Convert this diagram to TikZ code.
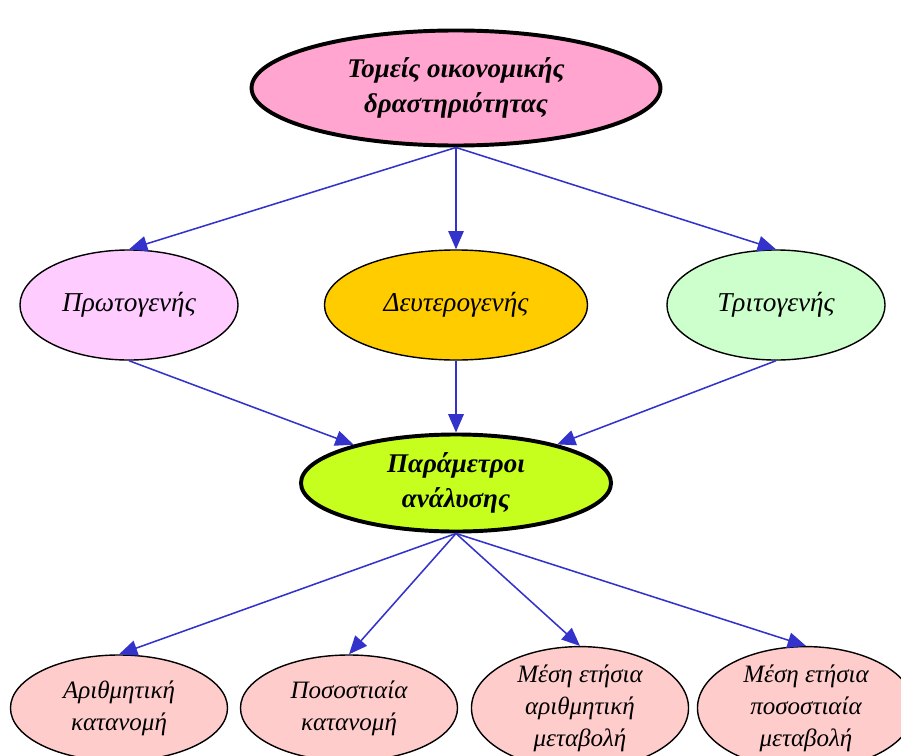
\documentclass[tikz,border=0pt]{standalone}
\usepackage{fontspec}
\setmainfont{Liberation Serif}
\usetikzlibrary{arrows.meta, shapes.geometric}
\definecolor{topc}{HTML}{FFA5D0}
\definecolor{primc}{HTML}{FFCCFF}
\definecolor{secc}{HTML}{FFCC00}
\definecolor{terc}{HTML}{CCFFCC}
\definecolor{parc}{HTML}{C6FF1E}
\definecolor{botc}{HTML}{FFCCCC}
\definecolor{edgec}{HTML}{3333CC}

\begin{document}
\begin{tikzpicture}[x=0.025cm, y=-0.025cm,
	blob/.style={ellipse, draw=black, line width=1pt, inner sep=0pt, align=center,
		font=\itshape\fontsize{19.4}{23}\selectfont},
	bigblob/.style={blob, line width=2.8pt, font=\bfseries\itshape\fontsize{19.2}{25}\selectfont},
	lowblob/.style={blob, fill=botc, minimum width=5.425cm, minimum height=2.65cm,
		font=\itshape\fontsize{17.8}{22.7}\selectfont},
	link/.style={-{Triangle[length=13pt,width=11pt]}, draw=edgec, line width=1.1pt}]
	\useasboundingbox (0,0) rectangle (901,756);
	% sector of activity
	\node[bigblob, fill=topc, minimum width=10.22cm, minimum height=2.875cm] (sect) at (456,88)
		{Τομείς οικονομικής\\δραστηριότητας};
	% the three sectors
	\node[blob, fill=primc, minimum width=5.45cm, minimum height=2.75cm] (prim) at (129,305) {Πρωτογενής};
	\node[blob, fill=secc, minimum width=6.575cm, minimum height=2.75cm] (sec) at (456,305) {Δευτερογενής};
	\node[blob, fill=terc, minimum width=5.45cm, minimum height=2.75cm] (ter) at (776,305) {Τριτογενής};
	% parameters
	\node[bigblob, fill=parc, minimum width=7.75cm, minimum height=2.425cm] (par) at (456,483)
		{Παράμετροι\\ανάλυσης};
	% bottom row, cut by the page edge
	\node[lowblob] (aridist) at (119,708) {Αριθμητική\\κατανομή};
	\node[lowblob] (perdist) at (349,708) {Ποσοστιαία\\κατανομή};
	\node[lowblob] (arichg) at (580,708) {Μέση ετήσια\\αριθμητική\\μεταβολή};
	\node[lowblob] (perchg) at (806,708) {Μέση ετήσια\\ποσοστιαία\\μεταβολή};
	% links
	\draw[link] (sect.south) -- (prim.north);
	\draw[link] (sect.south) -- (sec.north);
	\draw[link] (sect.south) -- (ter.north);
	\draw[link] (prim.south) -- (par);
	\draw[link] (sec.south) -- (par.north);
	\draw[link] (ter.south) -- (par);
	\draw[link] (par.south) -- (aridist.north);
	\draw[link] (par.south) -- (perdist.north);
	\draw[link] (par.south) -- (arichg.north);
	\draw[link] (par.south) -- (perchg.north);
\end{tikzpicture}
\end{document}
